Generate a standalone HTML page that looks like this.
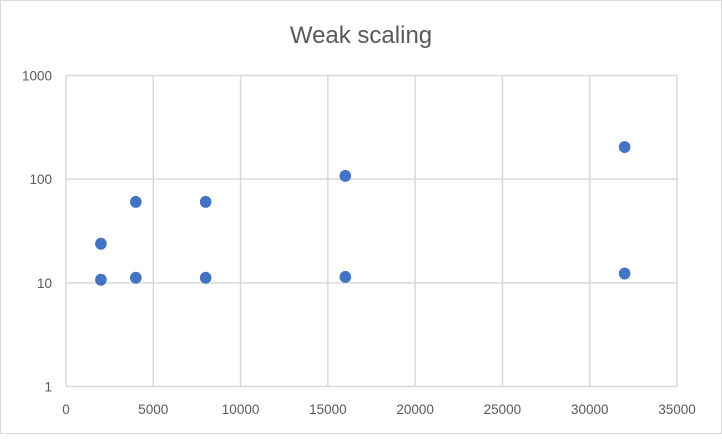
<!DOCTYPE html>
<html><head><meta charset="utf-8"><style>
body{margin:0;background:#fff;font-family:"Liberation Sans",sans-serif}
#wrap{position:relative;width:722px;height:434px}
</style></head><body>
<div id="wrap">
<svg id="svg" width="722" height="434">
<rect x="0.5" y="0.5" width="721" height="433" fill="#fff" stroke="#d9d9d9"/>
<text x="361" y="43" text-anchor="middle" font-size="24" fill="#595959">Weak scaling</text>
<g id="grid"></g><g id="ticks"></g><g id="pts"></g>
</svg></div>
<script>
const xVals=[2000,2000,4000,4000,8000,8000,16000,16000,32000,32000];
const yVals=[23.8,10.7,60.4,11.2,60.4,11.2,107.6,11.4,204,12.3];
const xTicks=[0,5000,10000,15000,20000,25000,30000,35000];
const yTicks=[1,10,100,1000];
const X0=66,X1=677,Ytop=75.5,Ybot=386.5;
function sx(v){return X0+(v/35000)*(X1-X0);}
function sy(v){return Ybot-(Math.log10(v)/3)*(Ybot-Ytop);}
const NS="http://www.w3.org/2000/svg";
const grid=document.getElementById('grid'),ticks=document.getElementById('ticks'),pts=document.getElementById('pts');
function mk(t,a,p){const e=document.createElementNS(NS,t);for(const k in a)e.setAttribute(k,a[k]);p.appendChild(e);return e;}
xTicks.forEach(v=>{
 const l=mk('line',{x1:sx(v),x2:sx(v),y1:Ytop,y2:Ybot,stroke:'#d9d9d9','stroke-width':1.5},grid);
 
 
 const t=mk('text',{x:sx(v),y:414,'text-anchor':'middle','font-size':13.5,fill:'#595959'},ticks);
 t.textContent=v;
 
 
});
yTicks.forEach(v=>{
 const l=mk('line',{x1:X0,x2:X1,y1:sy(v),y2:sy(v),stroke:'#d9d9d9','stroke-width':1.5},grid);
 
 
 const t=mk('text',{x:52,y:sy(v)+5,'text-anchor':'end','font-size':13.5,fill:'#595959'},ticks);
 t.textContent=v;
 
 
});
xVals.forEach((v,i)=>{
 const c=mk('ellipse',{cx:sx(v),cy:sy(yVals[i]),rx:5.8,ry:6,fill:'#4472c4'},pts);
 
 
});
</script></body></html>
